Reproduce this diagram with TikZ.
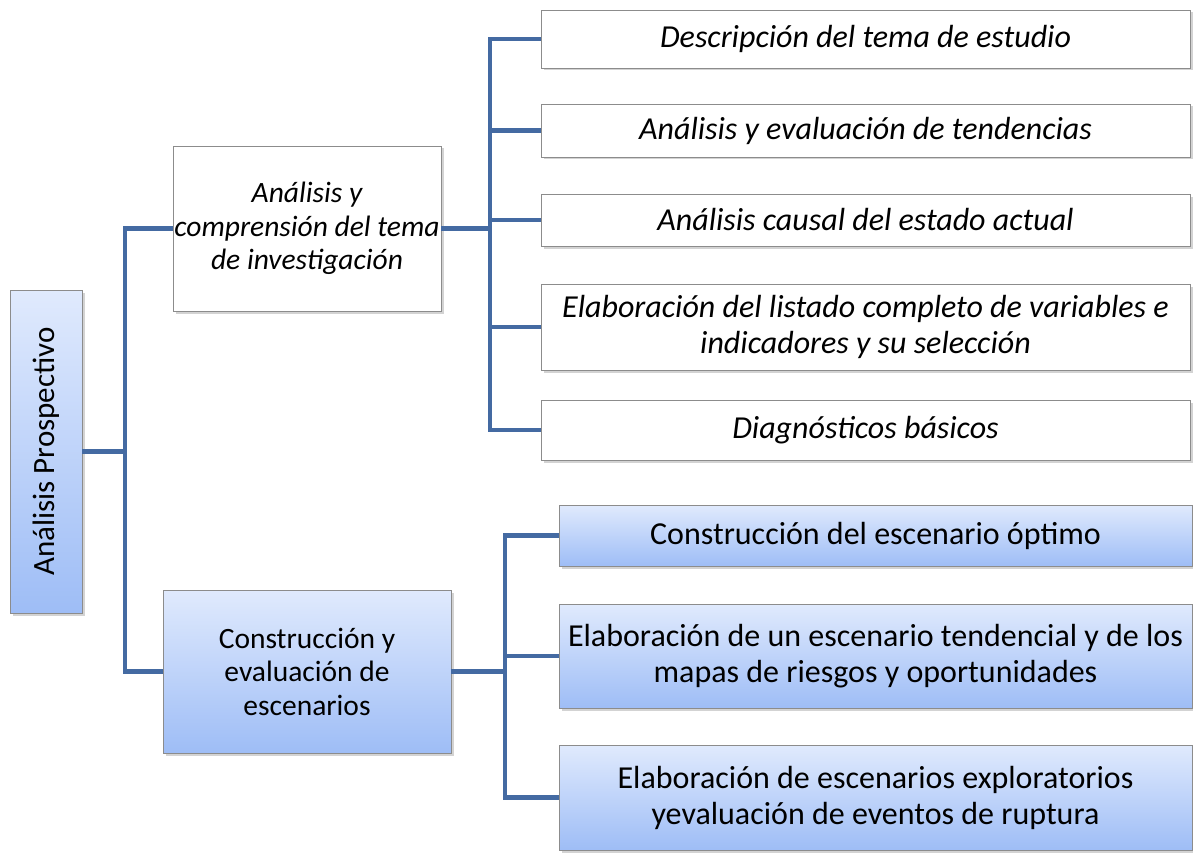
\documentclass[tikz,border=0pt]{standalone}
\usepackage{fontspec}
\setmainfont{Carlito}
\usetikzlibrary{positioning,shadows}
\definecolor{linkblue}{RGB}{68,106,162}
\definecolor{gradtop}{RGB}{224,234,253}
\definecolor{gradbot}{RGB}{158,189,246}
\definecolor{boxline}{RGB}{140,140,140}

\begin{document}
\begin{tikzpicture}[
  x=1pt, y=-1pt,
  font=\fontsize{32}{36}\selectfont,
  box/.style    ={draw=boxline, line width=0.8pt, align=center, inner sep=1pt,
                  drop shadow={shadow xshift=2.5pt, shadow yshift=-2.5pt, opacity=0.35}},
  plain/.style  ={box, fill=white, font=\fontsize{32}{36}\selectfont\itshape},
  blue/.style   ={box, top color=gradtop, bottom color=gradbot},
  mid/.style    ={font=\fontsize{29.5}{33.5}\selectfont},
  miditalic/.style={font=\fontsize{29.5}{33.5}\selectfont\itshape},
  link/.style   ={draw=linkblue, line width=4.5pt}
]
\useasboundingbox (0,0) rectangle (1193,853);

% --- root and second level ---
\node[blue, rotate=90, minimum width=323pt, minimum height=72pt,
      font=\fontsize{31}{34}\selectfont] (root) at (46,451.5)
  {Análisis Prospectivo};
\node[plain, miditalic, minimum width=268pt, minimum height=165pt] (comp) at (307,228.5)
  {Análisis y\\comprensión del tema\\de investigación};
\node[blue, mid, minimum width=288pt, minimum height=163pt] (esc) at (307,671.5)
  {Construcción y\\evaluación de\\escenarios};

% --- upper branch: study topic ---
\node[plain, minimum width=649pt, minimum height=58pt] (desc) at (865.5,39)
  {Descripción del tema de estudio};
\node[plain, minimum width=649pt, minimum height=53pt] (tend) at (865.5,130.5)
  {Análisis y evaluación de tendencias};
\node[plain, minimum width=649pt, minimum height=52pt] (caus) at (865.5,220)
  {Análisis causal del estado actual};
\node[plain, minimum width=649pt, minimum height=86pt] (vars) at (865.5,327)
  {Elaboración del listado completo de variables e\\indicadores y su selección};
\node[plain, minimum width=649pt, minimum height=60pt] (diag) at (865.5,430)
  {Diagnósticos básicos};

% --- lower branch: scenarios ---
\node[blue, minimum width=633pt, minimum height=61pt] (opt) at (875.5,535.5)
  {Construcción del escenario óptimo};
\node[blue, minimum width=633pt, minimum height=104pt] (tendesc) at (875.5,656)
  {Elaboración de un escenario tendencial y de los\\mapas de riesgos y oportunidades};
\node[blue, minimum width=633pt, minimum height=105pt] (expl) at (875.5,797.5)
  {Elaboración de escenarios exploratorios\\yevaluación de eventos de ruptura};

% --- connectors ---
\coordinate (trunk0) at (125,451.5);
\coordinate (trunk1) at (490,228.5);
\coordinate (trunk2) at (505,671.5);

\draw[link] (root.south) -- (trunk0);
\draw[link] (comp.west) -| (trunk0) |- (esc.west);

\draw[link] (comp.east) -- (trunk1);
\foreach \n in {desc,tend,caus,vars,diag}
  \draw[link] (trunk1) |- (\n.west);

\draw[link] (esc.east) -- (trunk2);
\foreach \n in {opt,tendesc,expl}
  \draw[link] (trunk2) |- (\n.west);

\end{tikzpicture}
\end{document}
